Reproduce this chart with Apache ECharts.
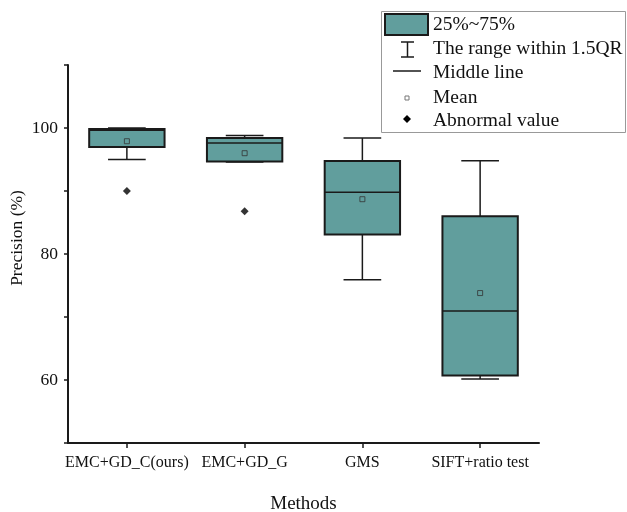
<!DOCTYPE html>
<html>
<head>
<meta charset="utf-8">
<script src="https://cdn.jsdelivr.net/npm/echarts@6/dist/echarts.min.js"></script>
<style>
  html, body { margin: 0; padding: 0; background: #fff; }
  #chart { width: 627px; height: 512px; }
</style>
</head>
<body>
<div id="chart"></div>
<script>
// methods on the x axis
const categories = ["EMC+GD_C(ours)", "EMC+GD_G", "GMS", "SIFT+ratio test"];

// box statistics (Precision %)
const whiskerLow = [95.0, 94.6, 75.9, 60.15];
const q1 = [97.0, 94.7, 83.1, 60.7];
const median = [99.65, 97.6, 89.8, 70.95];
const q3 = [99.85, 98.4, 94.75, 86.0];
const whiskerHigh = [100.0, 98.8, 98.4, 94.8];
const means = [97.9, 96.0, 88.7, 73.8];

// abnormal values: [category index, value]
const outliers = [[0, 90.0], [1, 86.8]];

const yTickLabels = [60, 80, 100];

const FONT = '"Liberation Serif", "Times New Roman", serif';
const BOX_COLOR = "#619e9d";
const LINE_COLOR = "#1a1a1a";

const boxData = categories.map((c, i) => [i, whiskerLow[i], q1[i], median[i], q3[i], whiskerHigh[i]]);
const meanData = categories.map((c, i) => [i, means[i]]);

const chart = echarts.init(document.getElementById("chart"));

function renderBox(params, api) {
  const x = api.value(0);
  const pLow = api.coord([x, api.value(1)]);
  const pQ1 = api.coord([x, api.value(2)]);
  const pMed = api.coord([x, api.value(3)]);
  const pQ3 = api.coord([x, api.value(4)]);
  const pHigh = api.coord([x, api.value(5)]);
  const band = api.size([1, 0])[0];
  const bw = band * 0.64;
  const cw = bw * 0.5;
  const cx = pMed[0];
  const lineStyle = { stroke: LINE_COLOR, lineWidth: 1.5 };
  return {
    type: "group",
    children: [
      { type: "line", shape: { x1: cx, y1: pQ3[1], x2: cx, y2: pHigh[1] }, style: lineStyle },
      { type: "line", shape: { x1: cx, y1: pQ1[1], x2: cx, y2: pLow[1] }, style: lineStyle },
      { type: "line", shape: { x1: cx - cw / 2, y1: pHigh[1], x2: cx + cw / 2, y2: pHigh[1] }, style: lineStyle },
      { type: "line", shape: { x1: cx - cw / 2, y1: pLow[1], x2: cx + cw / 2, y2: pLow[1] }, style: lineStyle },
      {
        type: "rect",
        shape: { x: cx - bw / 2, y: pQ3[1], width: bw, height: pQ1[1] - pQ3[1] },
        style: { fill: BOX_COLOR, stroke: LINE_COLOR, lineWidth: 2 },
      },
      { type: "line", shape: { x1: cx - bw / 2, y1: pMed[1], x2: cx + bw / 2, y2: pMed[1] }, style: lineStyle },
    ],
  };
}

// legend drawn as graphic, top right
const legendText = (text, y) => ({
  type: "text",
  x: 433,
  y: y,
  z: 12,
  style: { text: text, font: "19.5px " + FONT, fill: "#111", textVerticalAlign: "middle", verticalAlign: "middle" },
});
const legendLine = (x1, y1, x2, y2) => ({
  type: "line",
  z: 12,
  shape: { x1: x1, y1: y1, x2: x2, y2: y2 },
  style: { stroke: LINE_COLOR, lineWidth: 1.5 },
});

const option = {
  animation: false,
  grid: { left: 68, right: 88, top: 65, bottom: 69, outerBoundsMode: "none", containLabel: false },
  xAxis: {
    type: "category",
    data: categories,
    boundaryGap: true,
    name: "Methods",
    nameLocation: "middle",
    nameGap: 52,
    nameMoveOverlap: false,
    nameTextStyle: { fontFamily: FONT, fontSize: 19, color: "#111" },
    axisLine: { show: true, lineStyle: { color: LINE_COLOR, width: 2 } },
    axisTick: { show: true, alignWithLabel: true, length: 5, lineStyle: { color: LINE_COLOR, width: 1.5 } },
    axisLabel: { fontFamily: FONT, fontSize: 16, color: "#111", margin: 12, interval: 0 },
    splitLine: { show: false },
  },
  yAxis: {
    type: "value",
    min: 50,
    max: 110,
    interval: 10,
    name: "Precision (%)",
    nameLocation: "middle",
    nameGap: 42,
    nameMoveOverlap: false,
    nameTextStyle: { fontFamily: FONT, fontSize: 17.5, color: "#111", padding: [0, 0, 0, 32] },
    axisLine: { show: true, lineStyle: { color: LINE_COLOR, width: 2 } },
    axisTick: { show: true, length: 4, lineStyle: { color: LINE_COLOR, width: 1.5 } },
    axisLabel: {
      fontFamily: FONT,
      fontSize: 17.5,
      color: "#111",
      margin: 10,
      formatter: (v) => (yTickLabels.includes(v) ? String(v) : ""),
    },
    splitLine: { show: false },
  },
  series: [
    {
      name: "25%~75%",
      type: "custom",
      renderItem: renderBox,
      encode: { x: 0, y: [1, 2, 3, 4, 5] },
      data: boxData,
      z: 2,
    },
    {
      name: "Mean",
      type: "scatter",
      symbol: "rect",
      symbolSize: 5,
      itemStyle: { color: "rgba(0,0,0,0)", borderColor: "#333", borderWidth: 1 },
      data: meanData,
      z: 5,
    },
    {
      name: "Abnormal value",
      type: "scatter",
      symbol: "diamond",
      symbolSize: 8,
      itemStyle: { color: "#000" },
      data: outliers,
      z: 5,
    },
  ],
  graphic: [
    {
      type: "rect",
      z: 10,
      shape: { x: 381.5, y: 11.5, width: 244, height: 121 },
      style: { fill: "#fff", stroke: "#999", lineWidth: 1 },
    },
    { type: "rect", z: 12, shape: { x: 385, y: 14, width: 43, height: 21 }, style: { fill: BOX_COLOR, stroke: LINE_COLOR, lineWidth: 2 } },
    legendLine(407.5, 42, 407.5, 57),
    legendLine(401, 42, 414, 42),
    legendLine(401, 57, 414, 57),
    legendLine(393, 71, 421, 71),
    { type: "rect", z: 12, shape: { x: 405, y: 96, width: 4, height: 4 }, style: { fill: "#fff", stroke: "#777", lineWidth: 1 } },
    { type: "polygon", z: 12, shape: { points: [[407, 115], [411, 119], [407, 123], [403, 119]] }, style: { fill: "#000" } },
    legendText("25%~75%", 25),
    legendText("The range within 1.5QR", 49),
    legendText("Middle line", 73),
    legendText("Mean", 98),
    legendText("Abnormal value", 121),
  ],
};

chart.setOption(option);
</script>
</body>
</html>
